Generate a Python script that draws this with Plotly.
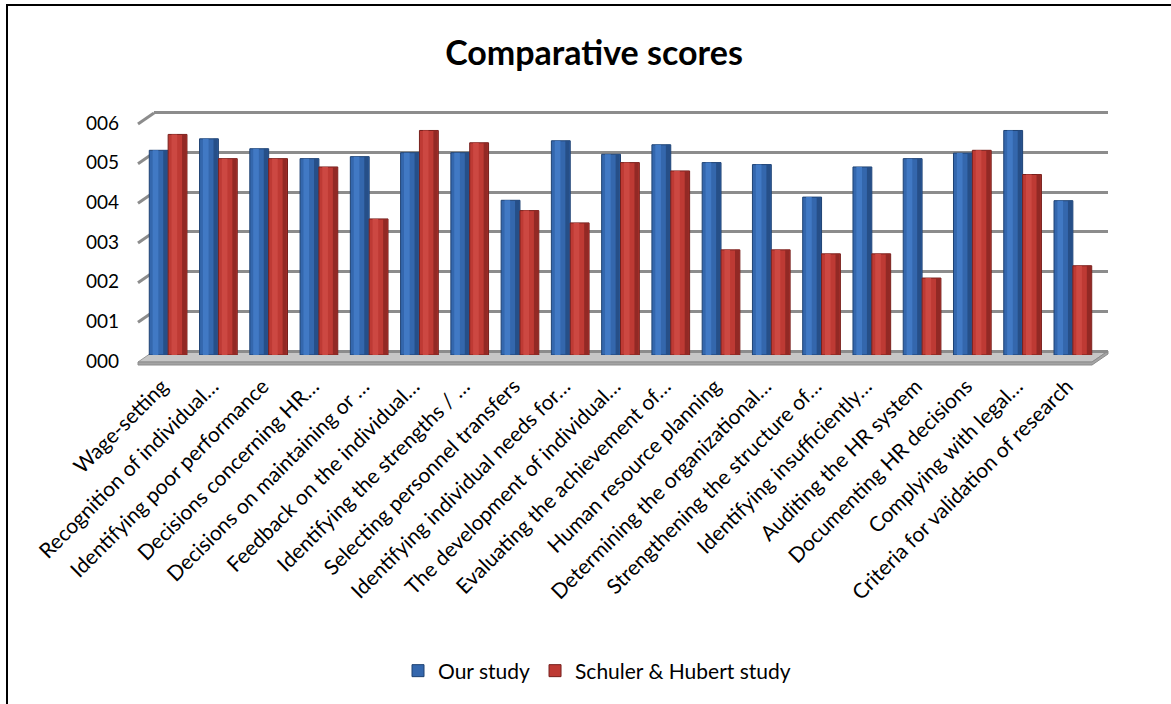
import plotly.graph_objects as go

categories = [
    "Wage-setting",
    "Recognition of individual…",
    "Identifying poor performance",
    "Decisions concerning HR…",
    "Decisions on maintaining or …",
    "Feedback on the individual…",
    "Identifying the strengths / …",
    "Selecting personnel transfers",
    "Identifying individual needs for…",
    "The development of individual…",
    "Evaluating the achievement of…",
    "Human resource planning",
    "Determining the organizational…",
    "Strengthening the structure of…",
    "Identifying insufficiently…",
    "Auditing the HR system",
    "Documenting HR decisions",
    "Complying with legal…",
    "Criteria for validation of research",
]
our_study = [5.16, 5.45, 5.2, 4.95, 5.0, 5.1, 5.1, 3.9, 5.4, 5.06,
             5.3, 4.85, 4.8, 3.98, 4.74, 4.95, 5.09, 5.66, 3.89]
schuler_hubert = [5.56, 4.95, 4.95, 4.74, 3.43, 5.66, 5.35, 3.64, 3.33, 4.85,
                  4.64, 2.65, 2.65, 2.55, 2.55, 1.94, 5.16, 4.55, 2.25]
series_names = ["Our study", "Schuler & Hubert study"]
tick_values = [0, 1, 2, 3, 4, 5, 6]

FONT = "Lato"
W, H = 1171, 704
PL, PR, PT, PB = 138, 1108, 100, 370
PW, PH = PR - PL, PB - PT
UNIT = 39.67  # pixels per unit
DEPTH_X, DEPTH_Y = 16, 11  # 3D offset of the back wall


def ydom(px_bottom, px_top):
    return [(PB - px_bottom) / PH, (PB - px_top) / PH]


def yrange(px_zero, unit=UNIT):
    return [(px_zero - PB) / unit, (px_zero - PT) / unit]


fig = go.Figure()
fig.add_trace(go.Scatter(x=[], y=[], xaxis="x", yaxis="y", showlegend=False, hoverinfo="skip"))

BW = 0.375
styles = [
    dict(base="#3467ad", light="#4179c4", dark="#264f88", edge="#1e4273", offset=-BW),
    dict(base="#be3a34", light="#cc4842", dark="#922925", edge="#77201d", offset=0.0),
]
for name, vals, st in zip(series_names, [our_study, schuler_hubert], styles):
    fig.add_trace(go.Bar(
        x=categories, y=vals, name=name, xaxis="x2", yaxis="y2",
        offset=st["offset"], width=BW,
        marker=dict(color=st["base"], line=dict(color=st["edge"], width=1)),
    ))
    fig.add_trace(go.Bar(
        x=categories, y=vals, xaxis="x2", yaxis="y2", showlegend=False, hoverinfo="skip",
        offset=st["offset"] + BW * 0.18, width=BW * 0.3,
        marker=dict(color=st["light"], line=dict(width=0)),
    ))
    fig.add_trace(go.Bar(
        x=categories, y=vals, xaxis="x2", yaxis="y2", showlegend=False, hoverinfo="skip",
        offset=st["offset"] + BW * 0.74, width=BW * 0.22,
        marker=dict(color=st["dark"], line=dict(width=0)),
    ))

shapes = []
fl_back = 0.0
fl_front = -DEPTH_Y / UNIT
fl_bottom = -(DEPTH_Y + 3) / UNIT
x_back_l, x_back_r = DEPTH_X / PW, 1.0
x_front_l, x_front_r = 0.0, (PW - DEPTH_X) / PW
shapes.append(dict(type="path", xref="paper", yref="y", layer="below",
                   path=f"M {x_front_l},{fl_front} L {x_back_l},{fl_back} L {x_back_r},{fl_back} L {x_front_r},{fl_front} Z",
                   fillcolor="#c6c6c6", line=dict(color="#9a9a9a", width=1)))
shapes.append(dict(type="path", xref="paper", yref="y", layer="below",
                   path=f"M {x_front_l},{fl_front} L {x_front_r},{fl_front} L {x_back_r},{fl_back} L {x_back_r},{fl_back - 3 / UNIT} L {x_front_r},{fl_bottom} L {x_front_l},{fl_bottom} Z",
                   fillcolor="#a4a4a4", line=dict(color="#8c8c8c", width=1)))
for v in tick_values[1:]:
    shapes.append(dict(type="line", xref="paper", yref="y", layer="below",
                       x0=0, y0=v - DEPTH_Y / UNIT, x1=DEPTH_X / PW, y1=v,
                       line=dict(color="#8c8c8c", width=3)))
shapes.append(dict(type="rect", xref="paper", yref="paper",
                   x0=(7 - PL) / PW, x1=(1190 - PL) / PW,
                   y0=(PB - 720) / PH, y1=(PB - 5) / PH,
                   line=dict(color="#000000", width=2), fillcolor="rgba(0,0,0,0)"))

fig.update_layout(
    width=W, height=H,
    margin=dict(l=PL, r=W - PR, t=PT, b=H - PB),
    paper_bgcolor="white", plot_bgcolor="rgba(0,0,0,0)",
    font=dict(family=FONT, color="#000000", size=16),
    title=dict(text="<b>Comparative scores</b>", x=594 / W, xanchor="center",
               y=1 - 53 / H, yanchor="middle", yref="container", xref="container",
               font=dict(family=FONT, size=34, color="#000000")),
    barmode="overlay",
    showlegend=True,
    legend=dict(orientation="h", xref="container", yref="container",
                x=597 / W, xanchor="center", y=1 - 671 / H, yanchor="middle",
                font=dict(family=FONT, size=21), itemwidth=30, traceorder="normal"),
    xaxis=dict(domain=[DEPTH_X / PW, 1.0], range=[0, 1], showgrid=False, showticklabels=False,
               zeroline=False, showline=False, ticks=""),
    yaxis=dict(domain=[0, 1], range=yrange(351), tickvals=tick_values, tickformat="03d",
               showgrid=True, gridcolor="#8c8c8c", gridwidth=3, showticklabels=True,
               ticklabelshift=DEPTH_Y - 1, ticklabelstandoff=DEPTH_X + 18,
               tickfont=dict(family=FONT, size=19),
               zeroline=False, showline=False, ticks=""),
    xaxis2=dict(domain=[5 / PW, (PW - 10) / PW], anchor="y2", type="category",
                tickangle=-45, tickfont=dict(family=FONT, size=21), showgrid=False,
                ticklabelstandoff=14, ticklabelshift=-6,
                zeroline=False, showline=False, ticks="", range=[-0.5, len(categories) - 0.5]),
    yaxis2=dict(domain=ydom(355, 355 - 6 * UNIT), anchor="x2", range=[0, 6],
                showgrid=False, showticklabels=False, zeroline=False, showline=False, ticks=""),
    shapes=shapes,
)

fig.write_html("out.html")
